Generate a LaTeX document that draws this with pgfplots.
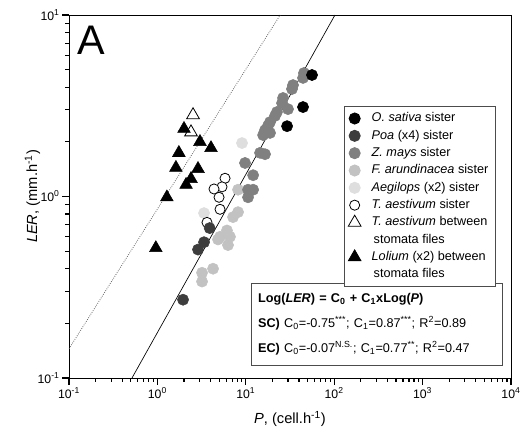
\documentclass[border=0pt]{standalone}
\usepackage{fontspec}
\setmainfont{Liberation Sans}
\usepackage{pgfplots}
\pgfplotsset{compat=1.18}

\definecolor{cPoa}{gray}{0.24}
\definecolor{cZea}{gray}{0.50}
\definecolor{cFes}{gray}{0.76}
\definecolor{cAeg}{gray}{0.87}

\begin{document}
\begin{tikzpicture}
\useasboundingbox (-51.75pt,-42pt) rectangle (345.75pt,283.5pt);
\begin{axis}[
    at={(0pt,0pt)}, anchor=south west,
    scale only axis,
    width=331.5pt, height=272.25pt,
    xmode=log, ymode=log,
    xmin=0.1, xmax=10000, ymin=0.1, ymax=10,
    xtick={0.1,1,10,100,1000,10000},
    xticklabels={10\textsuperscript{-1},10\textsuperscript{0},10\textsuperscript{1},10\textsuperscript{2},10\textsuperscript{3},10\textsuperscript{4}},
    ytick={0.1,1,10},
    yticklabels={10\textsuperscript{-1},10\textsuperscript{0},10\textsuperscript{1}},
    minor xtick={0.2,0.3,0.4,0.5,0.6,0.7,0.8,0.9,2,3,4,5,6,7,8,9,20,30,40,50,60,70,80,90,200,300,400,500,600,700,800,900,2000,3000,4000,5000,6000,7000,8000,9000},
    minor ytick={0.2,0.3,0.4,0.5,0.6,0.7,0.8,0.9,2,3,4,5,6,7,8,9},
    xtick pos=left, ytick pos=left,
    tick align=inside,
    major tick length=-5pt, minor tick length=-3pt,
    tick style={black, line width=0.9pt},
    tick label style={font=\fontsize{9.2}{11}\selectfont},
    xticklabel style={yshift=-3.5pt},
    yticklabel style={xshift=-3.5pt},
    every axis label/.append style={font=\fontsize{11}{13}\selectfont},
    xlabel={\textit{P}, (cell.h\textsuperscript{-1})},
    ylabel={\textit{LER}, (mm.h\textsuperscript{-1})},
    xlabel style={at={(axis description cs:0.5,-0.125)}, anchor=base},
    ylabel style={at={(axis description cs:-0.072,0.5)}, anchor=base},
    legend style={at={(0.622,0.749)}, anchor=north west,
        draw=black!70, line width=0.6pt, fill=white,
        font=\fontsize{9.5}{11}\selectfont,
        inner xsep=3pt, inner ysep=2.5pt, row sep=0pt, column sep=6pt,
        nodes={inner xsep=2pt, inner ysep=2pt, text height=7pt, text depth=2pt}},
    legend cell align=left,
    legend image code/.code={\path (0cm,0cm) (0.3cm,0cm);\draw[#1] plot coordinates {(0.15cm,0cm)};},
]
% legend images
\addlegendimage{only marks, mark=*, mark size=4.2pt, black}
\addlegendimage{only marks, mark=*, mark size=4.2pt, cPoa}
\addlegendimage{only marks, mark=*, mark size=4.2pt, cZea}
\addlegendimage{only marks, mark=*, mark size=4.2pt, cFes}
\addlegendimage{only marks, mark=*, mark size=4.2pt, cAeg}
\addlegendimage{only marks, mark=*, mark size=3.8pt, mark options={draw=black, fill=white, line width=0.6pt}}
\addlegendimage{only marks, mark=triangle*, mark size=5.5pt, mark options={draw=black, fill=white, line width=0.6pt}}
\addlegendimage{empty legend}
\addlegendimage{only marks, mark=triangle*, mark size=5.5pt, black}
\addlegendimage{empty legend}
\legend{\textit{O. sativa} sister, \textit{Poa} (x4) sister, \textit{Z. mays} sister,
  \textit{F. arundinacea} sister, \textit{Aegilops} (x2) sister, \textit{T. aestivum} sister,
  \textit{T. aestivum} between, \hspace{1.5pt}stomata files, \textit{Lolium} (x2) between, \hspace{1.5pt}stomata files}

% F. arundinacea sister
\addplot[only marks, mark=*, mark size=4.2pt, cFes, forget plot] coordinates {
 (8.17,1.09) (8.17,0.82) (7.17,0.77) (6.12,0.65) (5.11,0.60) (6.62,0.60)
 (6.29,0.54) (4.85,0.58) (4.26,0.40) (3.20,0.38) (3.20,0.34)};
% Aegilops sister
\addplot[only marks, mark=*, mark size=4.2pt, cAeg, forget plot] coordinates {
 (9.06,1.97) (3.37,0.81)};
% T. aestivum sister
\addplot[only marks, mark=*, mark size=3.8pt, mark options={draw=black, fill=white, line width=0.6pt}, forget plot] coordinates {
 (5.82,1.26) (5.38,1.13) (4.37,1.10) (4.98,0.99) (5.11,0.85) (3.64,0.72)};
% Poa sister
\addplot[only marks, mark=*, mark size=4.2pt, cPoa, forget plot] coordinates {
 (3.9,0.67) (3.37,0.56) (2.88,0.51) (1.95,0.27)};
% Z. mays sister
\addplot[only marks, mark=*, mark size=4.2pt, cZea, forget plot] coordinates {
 (45.5,4.79) (44.4,4.50) (34.2,4.11) (33.3,3.91) (26.4,3.49) (25.7,3.27)
 (30.0,3.03) (22.5,2.92) (21.4,2.78) (18.8,2.57) (17.8,2.45) (16.5,2.32)
 (15.7,2.18) (18.8,2.24) (14.5,1.74) (16.5,1.71) (9.8,1.53) (12.1,1.31)
 (10.6,1.09) (12.1,1.09) (10.6,0.99)};
% O. sativa sister
\addplot[only marks, mark=*, mark size=4.2pt, black, forget plot] coordinates {
 (56.1,4.67) (44.4,3.11) (29.3,2.44)};
% T. aestivum between stomata files
\addplot[only marks, mark=triangle*, mark size=5.5pt, mark options={draw=black, fill=white, line width=0.6pt}, forget plot] coordinates {
 (2.53,2.81) (2.40,2.26)};
% Lolium between stomata files
\addplot[only marks, mark=triangle*, mark size=5.5pt, black, forget plot] coordinates {
 (2.0,2.36) (3.03,2.0) (4.04,1.85) (1.75,1.74) (1.62,1.44) (2.88,1.42)
 (2.40,1.25) (2.11,1.16) (1.28,0.99) (0.96,0.52)};
% regressions
\addplot[black, line width=0.5pt, forget plot] coordinates {(0.516,0.1) (102,10)};
\addplot[black!60, densely dotted, line width=0.6pt, forget plot] coordinates {(0.1,0.145) (24.5,10)};

\node[anchor=base west, inner sep=0pt, font=\fontsize{31}{31}\selectfont] at (rel axis cs:0.018,0.89) {A};
\node[draw=black!70, line width=0.6pt, fill=white, anchor=north west, inner xsep=5pt, inner ysep=0pt,
      align=left, text width=178pt, minimum height=61.5pt, font=\fontsize{9.5}{18.75}\selectfont]
  at (rel axis cs:0.4118,0.2617)
  {\textbf{Log(\textit{LER}) = C\textsubscript{0} + C\textsubscript{1}xLog(\textit{P})}\\
   \textbf{SC)} C\textsubscript{0}=-0.75\textsuperscript{***}; C\textsubscript{1}=0.87\textsuperscript{***}; R\textsuperscript{2}=0.89\\
   \textbf{EC)} C\textsubscript{0}=-0.07\textsuperscript{N.S.}; C\textsubscript{1}=0.77\textsuperscript{**}; R\textsuperscript{2}=0.47};
\end{axis}
\end{tikzpicture}
\end{document}
